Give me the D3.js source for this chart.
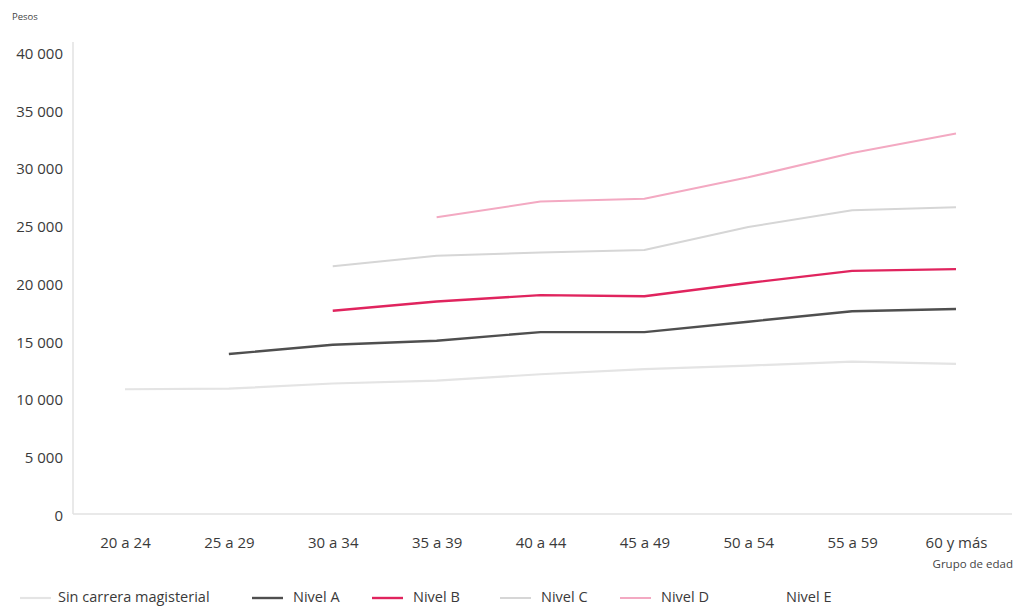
<!DOCTYPE html>
<html>
<head>
<meta charset="utf-8">
<script src="https://cdn.jsdelivr.net/npm/d3@7"></script>
<style>
  html, body { margin: 0; padding: 0; background: #fff; }
  svg { display: block; font-family: "Open Sans", sans-serif; }
</style>
</head>
<body>
<svg id="chart" width="1016" height="608"></svg>
<script>
// ---- data ----
const categories = ["20 a 24", "25 a 29", "30 a 34", "35 a 39", "40 a 44", "45 a 49", "50 a 54", "55 a 59", "60 y más"];
const seriesNames = ["Sin carrera magisterial", "Nivel A", "Nivel B", "Nivel C", "Nivel D", "Nivel E"];
const sinCarrera = [10800, 10850, 11300, 11550, 12100, 12550, 12850, 13200, 13000];
const nivelA = [null, 13850, 14650, 15000, 15750, 15750, 16650, 17550, 17750];
const nivelB = [null, null, 17600, 18400, 18950, 18850, 20000, 21050, 21200];
const nivelC = [null, null, 21450, 22350, 22650, 22850, 24850, 26300, 26550];
const nivelD = [null, null, null, 25700, 27050, 27300, 29150, 31250, 32950];
const nivelE = [null, null, null, null, null, null, null, null, null];
const yTickValues = [0, 5000, 10000, 15000, 20000, 25000, 30000, 35000, 40000];
const yTitle = "Pesos";
const xTitle = "Grupo de edad";

// ---- layout / style ----
const seriesValues = [sinCarrera, nivelA, nivelB, nivelC, nivelD, nivelE];
const colors = ["#e4e4e4", "#4f4f4f", "#e0245e", "#d6d6d6", "#f3a9c2", "#ffffff"];
const widths = [2.2, 2.4, 2.4, 2, 2, 2];
const legendX = [20, 252, 372, 500, 620, 745];

const svg = d3.select("#chart");
const x = d3.scalePoint().domain(categories).range([125, 956]);
const y = d3.scaleLinear().domain([0, 40000]).range([514, 52]);

const loc = d3.formatLocale({ decimal: ".", thousands: "\u2009", grouping: [3], currency: ["", ""] });
const fmt = v => loc.format(",")(v).replace("\u2009", " ");

// y axis
const yAxis = svg.append("g").attr("transform", "translate(73,0)")
  .call(d3.axisLeft(y).tickValues(yTickValues).tickSize(0).tickPadding(10).tickFormat(fmt));
yAxis.select(".domain").remove();
yAxis.selectAll("text").attr("font-family", "Open Sans").attr("font-size", 15).attr("fill", "#3a3a3a").attr("dy", "0.42em");

svg.append("line").attr("x1", 73).attr("x2", 73).attr("y1", 42).attr("y2", y(0))
  .attr("stroke", "#e2e2e2").attr("stroke-width", 1.5);

// x axis
const xAxis = svg.append("g").attr("transform", `translate(0,${y(0)})`)
  .call(d3.axisBottom(x).tickSize(0).tickPadding(23));
xAxis.select(".domain").remove();
xAxis.selectAll("text").attr("font-family", "Open Sans").attr("font-size", 15).attr("fill", "#3a3a3a");

svg.append("line").attr("x1", 73).attr("x2", 1012).attr("y1", y(0)).attr("y2", y(0))
  .attr("stroke", "#e2e2e2").attr("stroke-width", 1.5);

// titles
svg.append("text").attr("x", 12).attr("y", 20).attr("font-size", 9.5).attr("fill", "#444").text(yTitle);
svg.append("text").attr("x", 1013).attr("y", 568).attr("text-anchor", "end").attr("font-size", 11.5).attr("fill", "#444").text(xTitle);

// lines
const line = d3.line()
  .defined(d => d.v !== null)
  .x(d => x(d.c))
  .y(d => y(d.v));

seriesValues.forEach((vals, i) => {
  const pts = categories.map((c, j) => ({ c, v: vals[j] }));
  svg.append("path").datum(pts)
    .attr("fill", "none")
    .attr("stroke", colors[i])
    .attr("stroke-width", widths[i])
    .attr("stroke-linejoin", "round")
    .attr("d", line);
});

// legend
const leg = svg.append("g");
seriesNames.forEach((name, i) => {
  const g = leg.append("g").attr("transform", `translate(${legendX[i]},597)`);
  g.append("line").attr("x1", 0).attr("x2", 31).attr("y1", 1).attr("y2", 1)
    .attr("stroke", colors[i]).attr("stroke-width", widths[i]);
  g.append("text").attr("x", i === 0 ? 38 : 41).attr("y", 0).attr("dy", "0.34em")
    .attr("font-size", 14.5).attr("fill", "#3a3a3a").text(name);
});
</script>
</body>
</html>
